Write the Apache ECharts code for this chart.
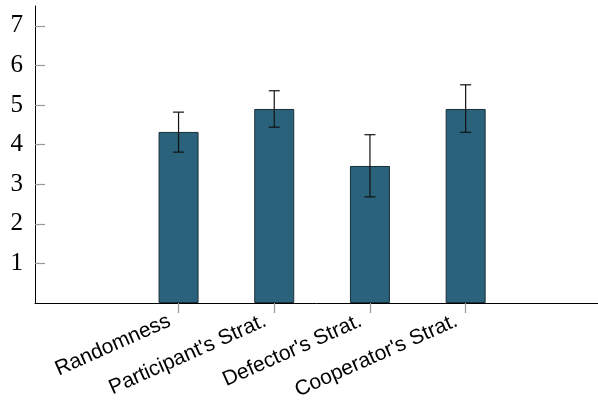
<!DOCTYPE html>
<html><head><meta charset="utf-8">
<script src="https://cdn.jsdelivr.net/npm/echarts@6/dist/echarts.min.js"></script>
<style>html,body{margin:0;padding:0;background:#fff;overflow:hidden}#c{width:598px;height:401px}</style>
</head><body><div id="c"></div>
<script>
var categories = ['Randomness', "Participant's Strat.", "Defector's Strat.", "Cooperator's Strat."];
var positions = [1, 2, 3, 4];
var means = [4.32, 4.90, 3.46, 4.90];
var errLow = [3.81, 4.44, 2.68, 4.31];
var errHigh = [4.82, 5.36, 4.25, 5.51];
var yTicks = [1, 2, 3, 4, 5, 6, 7];

var chart = echarts.init(document.getElementById('c'));
var barData = [], errData = [];
for (var i = 0; i < categories.length; i++) {
  barData.push([positions[i], means[i]]);
  errData.push([positions[i], errLow[i], errHigh[i]]);
}
chart.setOption({
  animation: false,
  grid: {left: 35, right: 0, top: 6, bottom: 98, containLabel: false, outerBoundsMode: 'none'},
  xAxis: {
    type: 'value', min: -0.5, max: 5.383,
    splitLine: {show: false},
    axisLine: {onZero: false, lineStyle: {color: '#000', width: 1}},
    axisTick: {show: true, length: 10, customValues: positions, lineStyle: {color: '#999', width: 1.2}},
    axisLabel: {rotate: 24, fontFamily: 'Liberation Sans', fontSize: 21, color: '#000',
      margin: 13, padding: [0, 10, 0, 0], customValues: positions,
      formatter: function (v) { return categories[positions.indexOf(v)] || ''; }}
  },
  yAxis: {
    type: 'value', min: 0, max: 7.5, interval: 1,
    splitLine: {show: false},
    axisLine: {show: true, onZero: false, lineStyle: {color: '#000', width: 1}},
    axisTick: {show: true, inside: true, length: 10, customValues: yTicks, lineStyle: {color: '#999', width: 1.2}},
    axisLabel: {fontFamily: 'Liberation Serif', fontSize: 25, color: '#000', margin: 12, customValues: yTicks}
  },
  series: [{
    type: 'bar', data: barData, barWidth: 40,
    itemStyle: {color: '#29627a', borderColor: '#1b2f38', borderWidth: 1}
  }, {
    type: 'custom', data: errData,
    renderItem: function (params, api) {
      var x = api.value(0);
      var lo = api.coord([x, api.value(1)]);
      var hi = api.coord([x, api.value(2)]);
      var hw = 5.5;
      var st = {stroke: '#111', lineWidth: 1.2};
      return {type: 'group', children: [
        {type: 'line', shape: {x1: lo[0], y1: lo[1], x2: hi[0], y2: hi[1]}, style: st},
        {type: 'line', shape: {x1: lo[0] - hw, y1: lo[1], x2: lo[0] + hw, y2: lo[1]}, style: st},
        {type: 'line', shape: {x1: hi[0] - hw, y1: hi[1], x2: hi[0] + hw, y2: hi[1]}, style: st}
      ]};
    },
    z: 10
  }]
});
</script></body></html>
